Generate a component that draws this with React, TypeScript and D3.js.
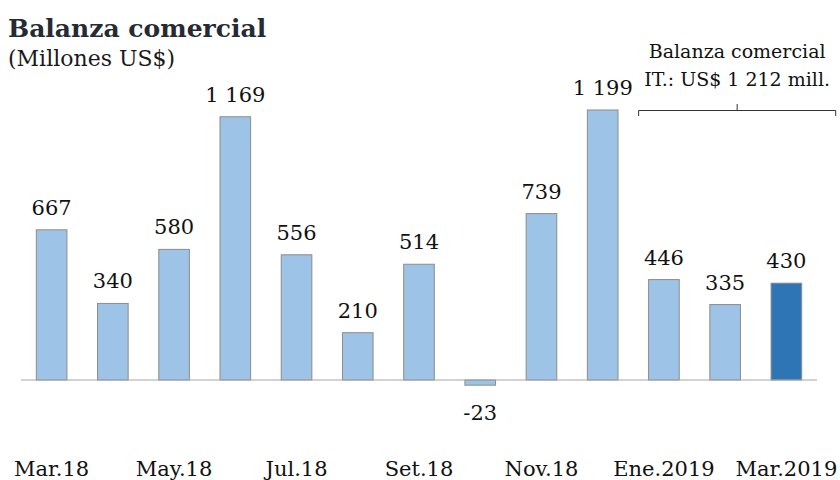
import React from "react";
import * as d3 from "d3";

const categories = ["Mar.18", "Abr.18", "May.18", "Jun.18", "Jul.18", "Ago.18", "Set.18", "Oct.18", "Nov.18", "Dic.18", "Ene.2019", "Feb.2019", "Mar.2019"];
const values = [667, 340, 580, 1169, 556, 210, 514, -23, 739, 1199, 446, 335, 430];
const valueLabels = ["667", "340", "580", "1 169", "556", "210", "514", "-23", "739", "1 199", "446", "335", "430"];
const shownTicks = ["Mar.18", "May.18", "Jul.18", "Set.18", "Nov.18", "Ene.2019", "Mar.2019"];
const title = "Balanza comercial";
const subtitle = "(Millones US$)";
const noteLines = ["Balanza comercial", "IT.: US$ 1 212 mill."];
const noteFrom = "Ene.2019";
const noteTo = "Mar.2019";

const W = 840, H = 480;
const FONT = "'DejaVu Serif', serif";

export default function App() {
  const x = d3.scaleBand<string>().domain(categories).range([21, 817]).paddingInner(0.5).paddingOuter(0.25);
  const y = d3.scaleLinear().domain([0, 1199]).range([380, 110]);
  const bw = x.bandwidth();
  const bx0 = x(noteFrom)! - 10;
  const bx1 = x(noteTo)! + bw + 34;
  const bmid = (bx0 + bx1) / 2;
  return (
    <svg width={W} height={H} style={{ position: "absolute", left: 0, top: 0, background: "#fff" }} fontFamily={FONT}>
      <text x={8} y={37} fontSize={25} fontWeight="bold" fill="#262b33">{title}</text>
      <text x={8} y={66} fontSize={22} fill="#1a1a1a">{subtitle}</text>
      {categories.map((c, i) => {
        const v = values[i];
        const top = y(Math.max(v, 0));
        const bot = y(Math.min(v, 0));
        const last = i === categories.length - 1;
        return (
          <g key={c}>
            <rect x={x(c)} y={top} width={bw} height={bot - top}
              fill={last ? "#2E75B6" : "#9DC3E6"} stroke="#8c8c8c" strokeWidth={1} />
            <text x={x(c)! + bw / 2} y={v >= 0 ? top - 15 : bot + 35} textAnchor="middle" fontSize={21} fill="#111">{valueLabels[i]}</text>
          </g>
        );
      })}
      <line x1={21} x2={817} y1={y(0)} y2={y(0)} stroke="#a6a6a6" strokeWidth={1} />
      {shownTicks.map((c) => (
        <text key={c} x={x(c)! + bw / 2} y={476} textAnchor="middle" fontSize={21} fill="#111">{c}</text>
      ))}
      <text x={bmid} y={58} textAnchor="middle" fontSize={19} fill="#111">{noteLines[0]}</text>
      <text x={bmid} y={86} textAnchor="middle" fontSize={19} fill="#111">{noteLines[1]}</text>
      <path d={`M${bx0},116 V110.5 H${bx1} V116 M${bmid},110.5 V104`} fill="none" stroke="#333" strokeWidth={1} />
    </svg>
  );
}
